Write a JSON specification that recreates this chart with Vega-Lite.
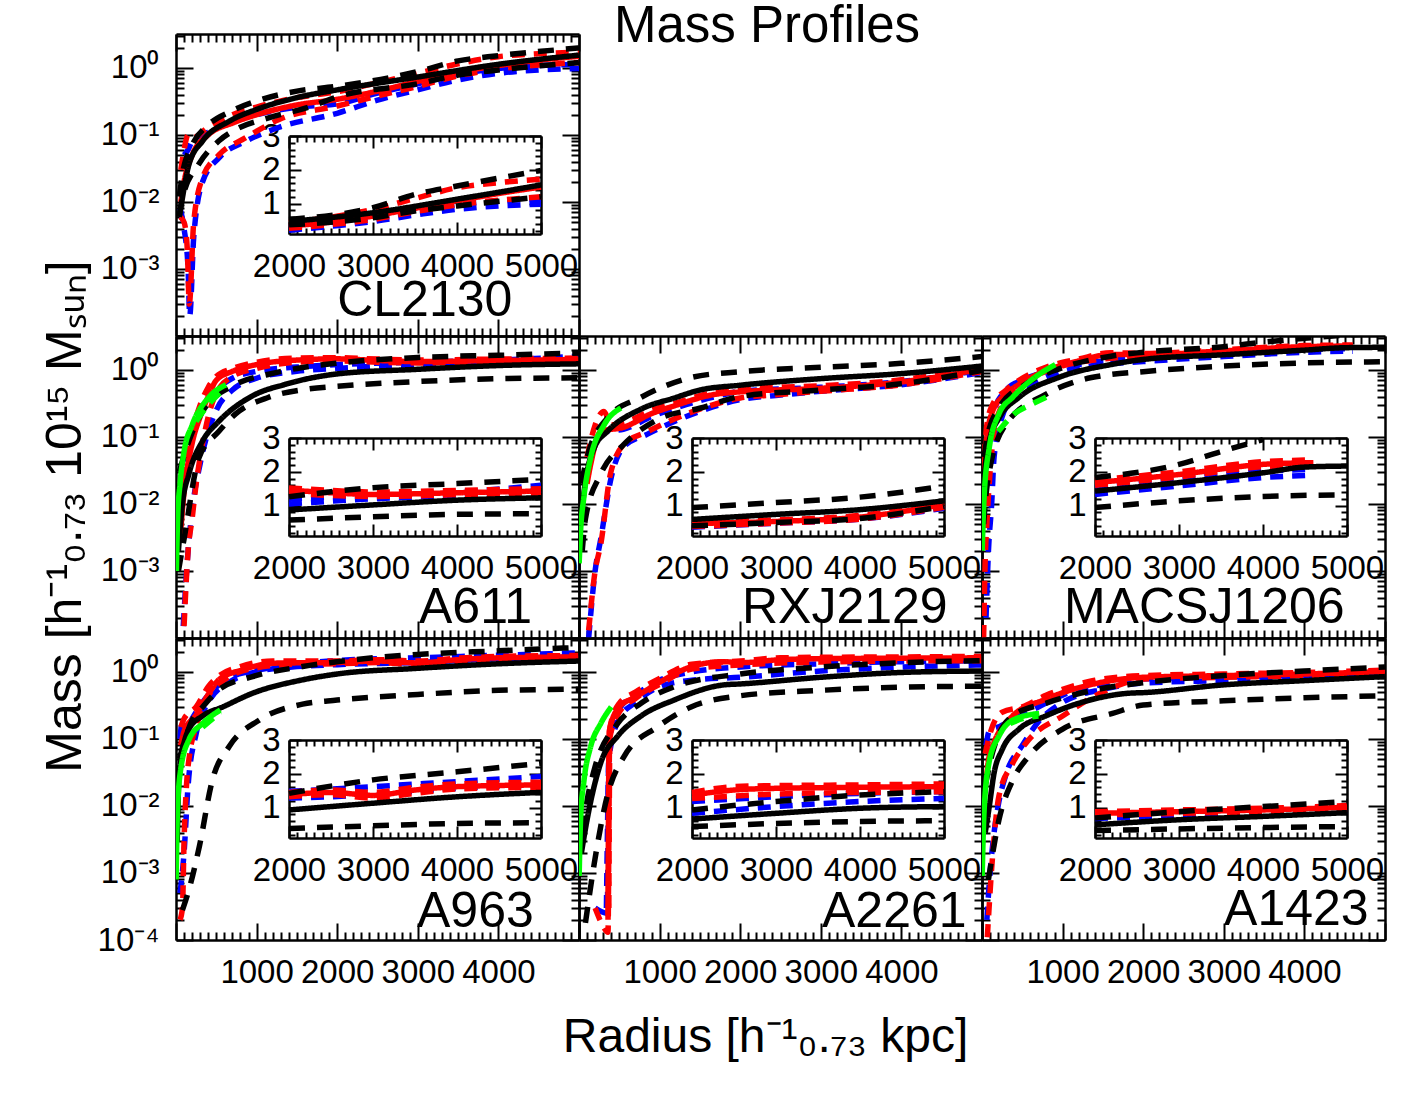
{
"$schema": "https://vega.github.io/schema/vega-lite/v6.json",
"background": "white",
"padding": {"left": 40, "top": 0, "right": 5, "bottom": 5},
"columns": 3,
"spacing": 0,
"bounds": "flush",
"datasets": {
"CL2130": [
{"s":"B+","r":100,"m":0.05},{"s":"B+","r":150,"m":0.06},{"s":"B+","r":200,"m":0.08},{"s":"B+","r":400,"m":0.11},{"s":"B+","r":700,"m":0.16},{"s":"B+","r":1000,"m":0.2},{"s":"B+","r":1500,"m":0.26},{"s":"B+","r":2000,"m":0.29},{"s":"B+","r":2500,"m":0.42},{"s":"B+","r":3000,"m":0.58},{"s":"B+","r":3500,"m":0.8},{"s":"B+","r":4000,"m":0.98},{"s":"B+","r":4500,"m":1.08},{"s":"B+","r":5000,"m":1.13},
{"s":"B-","r":50,"m":0.008},{"s":"B-","r":100,"m":0.004},{"s":"B-","r":150,"m":0.001},{"s":"B-","r":170,"m":0.0002},{"s":"B-","r":220,"m":0.003},{"s":"B-","r":330,"m":0.02},{"s":"B-","r":530,"m":0.045},{"s":"B-","r":860,"m":0.08},{"s":"B-","r":1280,"m":0.13},{"s":"B-","r":2000,"m":0.21},{"s":"B-","r":2500,"m":0.33},{"s":"B-","r":3000,"m":0.47},{"s":"B-","r":3500,"m":0.66},{"s":"B-","r":4000,"m":0.83},{"s":"B-","r":4500,"m":0.93},{"s":"B-","r":5000,"m":0.98},
{"s":"R-","r":50,"m":0.006},{"s":"R-","r":100,"m":0.005},{"s":"R-","r":140,"m":0.002},{"s":"R-","r":165,"m":0.0003},{"s":"R-","r":220,"m":0.005},{"s":"R-","r":330,"m":0.023},{"s":"R-","r":530,"m":0.05},{"s":"R-","r":860,"m":0.09},{"s":"R-","r":1280,"m":0.17},{"s":"R-","r":2000,"m":0.27},{"s":"R-","r":2500,"m":0.38},{"s":"R-","r":3000,"m":0.53},{"s":"R-","r":3500,"m":0.76},{"s":"R-","r":4000,"m":0.96},{"s":"R-","r":4500,"m":1.1},{"s":"R-","r":5000,"m":1.2},
{"s":"R+","r":60,"m":0.03},{"s":"R+","r":100,"m":0.06},{"s":"R+","r":150,"m":0.1},{"s":"R+","r":200,"m":0.09},{"s":"R+","r":400,"m":0.13},{"s":"R+","r":700,"m":0.2},{"s":"R+","r":1000,"m":0.26},{"s":"R+","r":1500,"m":0.36},{"s":"R+","r":2000,"m":0.44},{"s":"R+","r":2500,"m":0.6},{"s":"R+","r":3000,"m":0.83},{"s":"R+","r":3500,"m":1.15},{"s":"R+","r":4000,"m":1.47},{"s":"R+","r":4500,"m":1.62},{"s":"R+","r":5000,"m":1.72},
{"s":"R","r":60,"m":0.01},{"s":"R","r":100,"m":0.02},{"s":"R","r":200,"m":0.05},{"s":"R","r":400,"m":0.1},{"s":"R","r":700,"m":0.15},{"s":"R","r":1000,"m":0.2},{"s":"R","r":1500,"m":0.28},{"s":"R","r":2000,"m":0.34},{"s":"R","r":2500,"m":0.45},{"s":"R","r":3000,"m":0.63},{"s":"R","r":3500,"m":0.86},{"s":"R","r":4000,"m":1.08},{"s":"R","r":4500,"m":1.3},{"s":"R","r":5000,"m":1.49},
{"s":"K-","r":40,"m":0.006},{"s":"K-","r":80,"m":0.0115},{"s":"K-","r":285,"m":0.037},{"s":"K-","r":530,"m":0.081},{"s":"K-","r":740,"m":0.12},{"s":"K-","r":1150,"m":0.18},{"s":"K-","r":1650,"m":0.26},{"s":"K-","r":2000,"m":0.37},{"s":"K-","r":3000,"m":0.58},{"s":"K-","r":3500,"m":0.78},{"s":"K-","r":4000,"m":0.93},{"s":"K-","r":5000,"m":1.2},
{"s":"K+","r":40,"m":0.012},{"s":"K+","r":80,"m":0.026},{"s":"K+","r":200,"m":0.07},{"s":"K+","r":400,"m":0.14},{"s":"K+","r":700,"m":0.23},{"s":"K+","r":1000,"m":0.32},{"s":"K+","r":1500,"m":0.45},{"s":"K+","r":2000,"m":0.53},{"s":"K+","r":3000,"m":0.88},{"s":"K+","r":3500,"m":1.27},{"s":"K+","r":4000,"m":1.52},{"s":"K+","r":5000,"m":1.98},
{"s":"K","r":40,"m":0.006},{"s":"K","r":60,"m":0.0083},{"s":"K","r":160,"m":0.036},{"s":"K","r":330,"m":0.081},{"s":"K","r":660,"m":0.16},{"s":"K","r":1000,"m":0.24},{"s":"K","r":1500,"m":0.36},{"s":"K","r":2000,"m":0.47},{"s":"K","r":3000,"m":0.73},{"s":"K","r":4000,"m":1.13},{"s":"K","r":5000,"m":1.55}
],
"A611": [
{"s":"B+","r":100,"m":0.02},{"s":"B+","r":200,"m":0.1},{"s":"B+","r":300,"m":0.22},{"s":"B+","r":500,"m":0.5},{"s":"B+","r":700,"m":0.75},{"s":"B+","r":1000,"m":0.95},{"s":"B+","r":1500,"m":1.1},{"s":"B+","r":2000,"m":1.2},{"s":"B+","r":3000,"m":1.3},{"s":"B+","r":4000,"m":1.4},{"s":"B+","r":5000,"m":1.6},
{"s":"B-","r":90,"m":0.00015},{"s":"B-","r":150,"m":0.002},{"s":"B-","r":200,"m":0.008},{"s":"B-","r":300,"m":0.04},{"s":"B-","r":500,"m":0.25},{"s":"B-","r":700,"m":0.5},{"s":"B-","r":1000,"m":0.75},{"s":"B-","r":1500,"m":0.95},{"s":"B-","r":2000,"m":1.05},{"s":"B-","r":3000,"m":1.2},{"s":"B-","r":4000,"m":1.3},{"s":"B-","r":5000,"m":1.45},
{"s":"R-","r":100,"m":0.00015},{"s":"R-","r":150,"m":0.002},{"s":"R-","r":200,"m":0.006},{"s":"R-","r":250,"m":0.02},{"s":"R-","r":300,"m":0.05},{"s":"R-","r":400,"m":0.2},{"s":"R-","r":500,"m":0.45},{"s":"R-","r":700,"m":0.8},{"s":"R-","r":1000,"m":1.05},{"s":"R-","r":1500,"m":1.3},{"s":"R-","r":2000,"m":1.36},{"s":"R-","r":2500,"m":1.3},{"s":"R-","r":3000,"m":1.27},{"s":"R-","r":4000,"m":1.32},{"s":"R-","r":5000,"m":1.36},
{"s":"R+","r":50,"m":0.005},{"s":"R+","r":100,"m":0.03},{"s":"R+","r":200,"m":0.12},{"s":"R+","r":300,"m":0.3},{"s":"R+","r":400,"m":0.55},{"s":"R+","r":500,"m":0.8},{"s":"R+","r":700,"m":1.05},{"s":"R+","r":1000,"m":1.3},{"s":"R+","r":1500,"m":1.5},{"s":"R+","r":2000,"m":1.52},{"s":"R+","r":2500,"m":1.45},{"s":"R+","r":3000,"m":1.4},{"s":"R+","r":4000,"m":1.45},{"s":"R+","r":5000,"m":1.5},
{"s":"R","r":50,"m":0.003},{"s":"R","r":100,"m":0.015},{"s":"R","r":200,"m":0.08},{"s":"R","r":300,"m":0.2},{"s":"R","r":400,"m":0.4},{"s":"R","r":500,"m":0.7},{"s":"R","r":700,"m":0.95},{"s":"R","r":1000,"m":1.2},{"s":"R","r":1500,"m":1.4},{"s":"R","r":2000,"m":1.46},{"s":"R","r":2500,"m":1.38},{"s":"R","r":3000,"m":1.33},{"s":"R","r":4000,"m":1.38},{"s":"R","r":5000,"m":1.43},
{"s":"K-","r":30,"m":0.001},{"s":"K-","r":100,"m":0.003},{"s":"K-","r":285,"m":0.049},{"s":"K-","r":530,"m":0.12},{"s":"K-","r":740,"m":0.22},{"s":"K-","r":1150,"m":0.39},{"s":"K-","r":1650,"m":0.52},{"s":"K-","r":2000,"m":0.57},{"s":"K-","r":3000,"m":0.67},{"s":"K-","r":4000,"m":0.74},{"s":"K-","r":5000,"m":0.76},
{"s":"K+","r":40,"m":0.03},{"s":"K+","r":160,"m":0.087},{"s":"K+","r":330,"m":0.24},{"s":"K+","r":740,"m":0.61},{"s":"K+","r":1150,"m":0.86},{"s":"K+","r":1500,"m":1.05},{"s":"K+","r":2000,"m":1.26},{"s":"K+","r":3000,"m":1.53},{"s":"K+","r":4000,"m":1.65},{"s":"K+","r":5000,"m":1.78},
{"s":"K","r":30,"m":0.002},{"s":"K","r":80,"m":0.01},{"s":"K","r":160,"m":0.028},{"s":"K","r":330,"m":0.087},{"s":"K","r":530,"m":0.17},{"s":"K","r":950,"m":0.41},{"s":"K","r":1360,"m":0.61},{"s":"K","r":2000,"m":0.87},{"s":"K","r":3000,"m":1.02},{"s":"K","r":4000,"m":1.16},{"s":"K","r":5000,"m":1.23},
{"s":"Gd","r":250,"m":0.17},{"s":"Gd","r":400,"m":0.3},{"s":"Gd","r":580,"m":0.5},
{"s":"G","r":5,"m":0.001},{"s":"G","r":20,"m":0.006},{"s":"G","r":50,"m":0.02},{"s":"G","r":100,"m":0.06},{"s":"G","r":200,"m":0.15},{"s":"G","r":400,"m":0.38},{"s":"G","r":620,"m":0.6}
],
"RXJ2129": [
{"s":"B+","r":150,"m":0.05},{"s":"B+","r":300,"m":0.12},{"s":"B+","r":550,"m":0.13},{"s":"B+","r":900,"m":0.2},{"s":"B+","r":1200,"m":0.27},{"s":"B+","r":1700,"m":0.4},{"s":"B+","r":2000,"m":0.48},{"s":"B+","r":3000,"m":0.55},{"s":"B+","r":4000,"m":0.67},{"s":"B+","r":5000,"m":1.0},
{"s":"B-","r":120,"m":0.0001},{"s":"B-","r":200,"m":0.001},{"s":"B-","r":270,"m":0.003},{"s":"B-","r":400,"m":0.025},{"s":"B-","r":550,"m":0.07},{"s":"B-","r":850,"m":0.11},{"s":"B-","r":1500,"m":0.24},{"s":"B-","r":2000,"m":0.36},{"s":"B-","r":2500,"m":0.42},{"s":"B-","r":3000,"m":0.48},{"s":"B-","r":4000,"m":0.6},{"s":"B-","r":5000,"m":0.92},
{"s":"R-","r":120,"m":0.00013},{"s":"R-","r":200,"m":0.001},{"s":"R-","r":270,"m":0.0025},{"s":"R-","r":390,"m":0.028},{"s":"R-","r":560,"m":0.078},{"s":"R-","r":850,"m":0.12},{"s":"R-","r":1500,"m":0.26},{"s":"R-","r":2000,"m":0.38},{"s":"R-","r":2500,"m":0.43},{"s":"R-","r":3000,"m":0.48},{"s":"R-","r":4000,"m":0.6},{"s":"R-","r":5000,"m":0.95},
{"s":"R+","r":100,"m":0.05},{"s":"R+","r":200,"m":0.15},{"s":"R+","r":310,"m":0.24},{"s":"R+","r":400,"m":0.15},{"s":"R+","r":600,"m":0.17},{"s":"R+","r":900,"m":0.25},{"s":"R+","r":1200,"m":0.32},{"s":"R+","r":1700,"m":0.47},{"s":"R+","r":2000,"m":0.52},{"s":"R+","r":3000,"m":0.58},{"s":"R+","r":4000,"m":0.71},{"s":"R+","r":5000,"m":1.1},
{"s":"R","r":100,"m":0.02},{"s":"R","r":145,"m":0.039},{"s":"R","r":270,"m":0.12},{"s":"R","r":560,"m":0.14},{"s":"R","r":890,"m":0.22},{"s":"R","r":1180,"m":0.29},{"s":"R","r":1680,"m":0.43},{"s":"R","r":2000,"m":0.47},{"s":"R","r":3000,"m":0.53},{"s":"R","r":4000,"m":0.66},{"s":"R","r":5000,"m":1.03},
{"s":"K-","r":40,"m":0.002},{"s":"K-","r":80,"m":0.006},{"s":"K-","r":270,"m":0.028},{"s":"K-","r":560,"m":0.078},{"s":"K-","r":970,"m":0.18},{"s":"K-","r":1510,"m":0.27},{"s":"K-","r":2000,"m":0.4},{"s":"K-","r":3000,"m":0.5},{"s":"K-","r":4000,"m":0.62},{"s":"K-","r":5000,"m":0.98},
{"s":"K+","r":30,"m":0.02},{"s":"K+","r":100,"m":0.049},{"s":"K+","r":350,"m":0.19},{"s":"K+","r":770,"m":0.39},{"s":"K+","r":1390,"m":0.77},{"s":"K+","r":2000,"m":0.94},{"s":"K+","r":3000,"m":1.09},{"s":"K+","r":4000,"m":1.25},{"s":"K+","r":5000,"m":1.58},
{"s":"K","r":25,"m":0.006},{"s":"K","r":80,"m":0.022},{"s":"K","r":190,"m":0.069},{"s":"K","r":350,"m":0.12},{"s":"K","r":770,"m":0.26},{"s":"K","r":1180,"m":0.38},{"s":"K","r":1500,"m":0.5},{"s":"K","r":2000,"m":0.59},{"s":"K","r":3000,"m":0.74},{"s":"K","r":4000,"m":0.88},{"s":"K","r":5000,"m":1.14},
{"s":"G","r":2,"m":0.0013},{"s":"G","r":20,"m":0.004},{"s":"G","r":60,"m":0.0125},{"s":"G","r":145,"m":0.049},{"s":"G","r":310,"m":0.15},{"s":"G","r":520,"m":0.27}
],
"MACSJ1206": [
{"s":"B+","r":40,"m":0.03},{"s":"B+","r":80,"m":0.1},{"s":"B+","r":150,"m":0.25},{"s":"B+","r":300,"m":0.5},{"s":"B+","r":500,"m":0.7},{"s":"B+","r":800,"m":0.95},{"s":"B+","r":1200,"m":1.2},{"s":"B+","r":2000,"m":1.53},{"s":"B+","r":3000,"m":1.78},{"s":"B+","r":4000,"m":2.02},{"s":"B+","r":4600,"m":2.07},
{"s":"B-","r":50,"m":0.0002},{"s":"B-","r":80,"m":0.002},{"s":"B-","r":120,"m":0.01},{"s":"B-","r":150,"m":0.05},{"s":"B-","r":250,"m":0.2},{"s":"B-","r":400,"m":0.4},{"s":"B-","r":700,"m":0.7},{"s":"B-","r":1000,"m":0.95},{"s":"B-","r":1500,"m":1.2},{"s":"B-","r":2000,"m":1.33},{"s":"B-","r":3000,"m":1.58},{"s":"B-","r":4000,"m":1.83},{"s":"B-","r":4600,"m":1.9},
{"s":"R-","r":20,"m":0.0001},{"s":"R-","r":40,"m":0.0015},{"s":"R-","r":60,"m":0.005},{"s":"R-","r":100,"m":0.03},{"s":"R-","r":150,"m":0.12},{"s":"R-","r":250,"m":0.3},{"s":"R-","r":400,"m":0.5},{"s":"R-","r":700,"m":0.85},{"s":"R-","r":1000,"m":1.15},{"s":"R-","r":1500,"m":1.45},{"s":"R-","r":2000,"m":1.6},{"s":"R-","r":3000,"m":1.85},{"s":"R-","r":4000,"m":2.15},{"s":"R-","r":4600,"m":2.2},
{"s":"R+","r":30,"m":0.05},{"s":"R+","r":60,"m":0.15},{"s":"R+","r":130,"m":0.3},{"s":"R+","r":300,"m":0.5},{"s":"R+","r":460,"m":0.7},{"s":"R+","r":800,"m":1.1},{"s":"R+","r":1200,"m":1.45},{"s":"R+","r":1600,"m":1.8},{"s":"R+","r":2000,"m":1.76},{"s":"R+","r":3000,"m":2.0},{"s":"R+","r":4000,"m":2.3},{"s":"R+","r":4600,"m":2.35},
{"s":"R","r":20,"m":0.02},{"s":"R","r":45,"m":0.069},{"s":"R","r":130,"m":0.24},{"s":"R","r":290,"m":0.43},{"s":"R","r":460,"m":0.61},{"s":"R","r":790,"m":0.97},{"s":"R","r":1200,"m":1.36},{"s":"R","r":1600,"m":1.7},{"s":"R","r":2000,"m":1.68},{"s":"R","r":3000,"m":1.92},{"s":"R","r":4000,"m":2.22},{"s":"R","r":4600,"m":2.27},
{"s":"K-","r":20,"m":0.005},{"s":"K-","r":45,"m":0.012},{"s":"K-","r":90,"m":0.03},{"s":"K-","r":290,"m":0.15},{"s":"K-","r":790,"m":0.43},{"s":"K-","r":1200,"m":0.69},{"s":"K-","r":1500,"m":0.82},{"s":"K-","r":2000,"m":0.94},{"s":"K-","r":3000,"m":1.14},{"s":"K-","r":4000,"m":1.27},{"s":"K-","r":5000,"m":1.32},
{"s":"K+","r":25,"m":0.05},{"s":"K+","r":66,"m":0.1},{"s":"K+","r":210,"m":0.27},{"s":"K+","r":540,"m":0.61},{"s":"K+","r":1000,"m":1.08},{"s":"K+","r":1600,"m":1.6},{"s":"K+","r":2000,"m":1.83},{"s":"K+","r":3000,"m":2.22},{"s":"K+","r":3500,"m":2.6},{"s":"K+","r":4000,"m":2.95},{"s":"K+","r":4500,"m":3.3},{"s":"K+","r":5000,"m":3.5},
{"s":"K","r":10,"m":0.005},{"s":"K","r":25,"m":0.022},{"s":"K","r":90,"m":0.087},{"s":"K","r":210,"m":0.19},{"s":"K","r":460,"m":0.39},{"s":"K","r":950,"m":0.77},{"s":"K","r":1600,"m":1.2},{"s":"K","r":2000,"m":1.43},{"s":"K","r":3000,"m":1.68},{"s":"K","r":4000,"m":1.97},{"s":"K","r":4500,"m":2.14},{"s":"K","r":5000,"m":2.17},
{"s":"Gd","r":200,"m":0.12},{"s":"Gd","r":400,"m":0.22},{"s":"Gd","r":600,"m":0.3},{"s":"Gd","r":850,"m":0.42},
{"s":"G","r":2,"m":0.002},{"s":"G","r":25,"m":0.012},{"s":"G","r":90,"m":0.069},{"s":"G","r":210,"m":0.22},{"s":"G","r":380,"m":0.39},{"s":"G","r":710,"m":0.86},{"s":"G","r":910,"m":1.2}
],
"A963": [
{"s":"B+","r":50,"m":0.1},{"s":"B+","r":80,"m":0.19},{"s":"B+","r":100,"m":0.12},{"s":"B+","r":200,"m":0.2},{"s":"B+","r":400,"m":0.45},{"s":"B+","r":700,"m":0.85},{"s":"B+","r":1000,"m":1.05},{"s":"B+","r":1500,"m":1.3},{"s":"B+","r":2000,"m":1.48},{"s":"B+","r":3000,"m":1.62},{"s":"B+","r":4000,"m":1.77},{"s":"B+","r":5000,"m":1.92},
{"s":"B-","r":50,"m":0.0005},{"s":"B-","r":100,"m":0.002},{"s":"B-","r":150,"m":0.02},{"s":"B-","r":250,"m":0.12},{"s":"B-","r":400,"m":0.35},{"s":"B-","r":700,"m":0.75},{"s":"B-","r":1000,"m":1.0},{"s":"B-","r":1500,"m":1.2},{"s":"B-","r":2000,"m":1.28},{"s":"B-","r":3000,"m":1.38},{"s":"B-","r":4000,"m":1.57},{"s":"B-","r":5000,"m":1.67},
{"s":"R-","r":50,"m":0.0002},{"s":"R-","r":80,"m":0.0003},{"s":"R-","r":100,"m":0.003},{"s":"R-","r":130,"m":0.02},{"s":"R-","r":170,"m":0.06},{"s":"R-","r":250,"m":0.15},{"s":"R-","r":350,"m":0.35},{"s":"R-","r":500,"m":0.6},{"s":"R-","r":700,"m":0.9},{"s":"R-","r":1000,"m":1.15},{"s":"R-","r":1500,"m":1.3},{"s":"R-","r":2000,"m":1.32},{"s":"R-","r":2500,"m":1.38},{"s":"R-","r":3000,"m":1.28},{"s":"R-","r":3500,"m":1.42},{"s":"R-","r":4000,"m":1.55},{"s":"R-","r":5000,"m":1.6},
{"s":"R+","r":60,"m":0.15},{"s":"R+","r":100,"m":0.2},{"s":"R+","r":250,"m":0.3},{"s":"R+","r":400,"m":0.6},{"s":"R+","r":550,"m":0.9},{"s":"R+","r":800,"m":1.2},{"s":"R+","r":1200,"m":1.45},{"s":"R+","r":2000,"m":1.45},{"s":"R+","r":2500,"m":1.52},{"s":"R+","r":3000,"m":1.45},{"s":"R+","r":3500,"m":1.6},{"s":"R+","r":4000,"m":1.7},{"s":"R+","r":5000,"m":1.75},
{"s":"R","r":60,"m":0.08},{"s":"R","r":100,"m":0.13},{"s":"R","r":240,"m":0.22},{"s":"R","r":410,"m":0.48},{"s":"R","r":530,"m":0.76},{"s":"R","r":820,"m":1.07},{"s":"R","r":1240,"m":1.35},{"s":"R","r":2000,"m":1.38},{"s":"R","r":2500,"m":1.45},{"s":"R","r":3000,"m":1.36},{"s":"R","r":3500,"m":1.52},{"s":"R","r":4000,"m":1.62},{"s":"R","r":5000,"m":1.67},
{"s":"K-","r":80,"m":0.00028},{"s":"K-","r":160,"m":0.00056},{"s":"K-","r":290,"m":0.0025},{"s":"K-","r":450,"m":0.024},{"s":"K-","r":660,"m":0.077},{"s":"K-","r":1030,"m":0.19},{"s":"K-","r":1570,"m":0.33},{"s":"K-","r":2000,"m":0.38},{"s":"K-","r":3000,"m":0.46},{"s":"K-","r":4000,"m":0.53},{"s":"K-","r":5000,"m":0.55},
{"s":"K+","r":40,"m":0.05},{"s":"K+","r":200,"m":0.19},{"s":"K+","r":330,"m":0.3},{"s":"K+","r":530,"m":0.54},{"s":"K+","r":950,"m":0.85},{"s":"K+","r":1570,"m":1.2},{"s":"K+","r":2000,"m":1.42},{"s":"K+","r":3000,"m":1.82},{"s":"K+","r":4000,"m":2.06},{"s":"K+","r":5000,"m":2.31},
{"s":"K","r":15,"m":0.003},{"s":"K","r":40,"m":0.03},{"s":"K","r":160,"m":0.14},{"s":"K","r":330,"m":0.22},{"s":"K","r":580,"m":0.3},{"s":"K","r":950,"m":0.48},{"s":"K","r":1570,"m":0.76},{"s":"K","r":2000,"m":0.93},{"s":"K","r":3000,"m":1.13},{"s":"K","r":4000,"m":1.32},{"s":"K","r":5000,"m":1.45},
{"s":"Gd","r":330,"m":0.15},{"s":"Gd","r":550,"m":0.25},
{"s":"G","r":2,"m":0.0008},{"s":"G","r":17,"m":0.0077},{"s":"G","r":58,"m":0.035},{"s":"G","r":160,"m":0.097},{"s":"G","r":330,"m":0.17},{"s":"G","r":550,"m":0.27}
],
"A2261": [
{"s":"B+","r":340,"m":0.0003},{"s":"B+","r":380,"m":0.1},{"s":"B+","r":500,"m":0.28},{"s":"B+","r":700,"m":0.45},{"s":"B+","r":1000,"m":0.75},{"s":"B+","r":1400,"m":1.0},{"s":"B+","r":2000,"m":1.18},{"s":"B+","r":3000,"m":1.32},{"s":"B+","r":4000,"m":1.42},{"s":"B+","r":5000,"m":1.47},
{"s":"B-","r":200,"m":0.0003},{"s":"B-","r":350,"m":0.00025},{"s":"B-","r":370,"m":0.05},{"s":"B-","r":500,"m":0.2},{"s":"B-","r":700,"m":0.35},{"s":"B-","r":1000,"m":0.6},{"s":"B-","r":1400,"m":0.75},{"s":"B-","r":2000,"m":0.83},{"s":"B-","r":3000,"m":1.03},{"s":"B-","r":4000,"m":1.18},{"s":"B-","r":5000,"m":1.27},
{"s":"R-","r":200,"m":0.0003},{"s":"R-","r":300,"m":0.00016},{"s":"R-","r":360,"m":0.00013},{"s":"R-","r":380,"m":0.1},{"s":"R-","r":500,"m":0.25},{"s":"R-","r":700,"m":0.4},{"s":"R-","r":1000,"m":0.65},{"s":"R-","r":1400,"m":1.1},{"s":"R-","r":2000,"m":1.27},{"s":"R-","r":3000,"m":1.4},{"s":"R-","r":4000,"m":1.45},{"s":"R-","r":5000,"m":1.47},
{"s":"R+","r":370,"m":0.0003},{"s":"R+","r":385,"m":0.15},{"s":"R+","r":500,"m":0.34},{"s":"R+","r":700,"m":0.5},{"s":"R+","r":1000,"m":0.8},{"s":"R+","r":1400,"m":1.3},{"s":"R+","r":2000,"m":1.45},{"s":"R+","r":2500,"m":1.62},{"s":"R+","r":3000,"m":1.65},{"s":"R+","r":4000,"m":1.67},{"s":"R+","r":5000,"m":1.7},
{"s":"R","r":360,"m":0.0002},{"s":"R","r":375,"m":0.13},{"s":"R","r":500,"m":0.3},{"s":"R","r":700,"m":0.42},{"s":"R","r":1000,"m":0.7},{"s":"R","r":1400,"m":1.2},{"s":"R","r":1800,"m":1.42},{"s":"R","r":2000,"m":1.37},{"s":"R","r":2500,"m":1.52},{"s":"R","r":3000,"m":1.57},{"s":"R","r":4000,"m":1.6},{"s":"R","r":5000,"m":1.62},
{"s":"K-","r":80,"m":0.00018},{"s":"K-","r":190,"m":0.0014},{"s":"K-","r":350,"m":0.014},{"s":"K-","r":560,"m":0.055},{"s":"K-","r":970,"m":0.15},{"s":"K-","r":1390,"m":0.3},{"s":"K-","r":2000,"m":0.44},{"s":"K-","r":3000,"m":0.53},{"s":"K-","r":4000,"m":0.59},{"s":"K-","r":5000,"m":0.61},
{"s":"K+","r":40,"m":0.004},{"s":"K+","r":100,"m":0.012},{"s":"K+","r":190,"m":0.035},{"s":"K+","r":480,"m":0.17},{"s":"K+","r":770,"m":0.34},{"s":"K+","r":1180,"m":0.6},{"s":"K+","r":2000,"m":0.93},{"s":"K+","r":3000,"m":1.18},{"s":"K+","r":4000,"m":1.37},{"s":"K+","r":5000,"m":1.47},
{"s":"K","r":30,"m":0.002},{"s":"K","r":100,"m":0.0062},{"s":"K","r":270,"m":0.044},{"s":"K","r":480,"m":0.11},{"s":"K","r":770,"m":0.22},{"s":"K","r":1180,"m":0.38},{"s":"K","r":1800,"m":0.64},{"s":"K","r":2000,"m":0.66},{"s":"K","r":3000,"m":0.83},{"s":"K","r":4000,"m":0.98},{"s":"K","r":5000,"m":1.03},
{"s":"G","r":2,"m":0.0009},{"s":"G","r":21,"m":0.007},{"s":"G","r":62,"m":0.024},{"s":"G","r":145,"m":0.077},{"s":"G","r":270,"m":0.17},{"s":"G","r":400,"m":0.3}
],
"A1423": [
{"s":"B+","r":50,"m":0.08},{"s":"B+","r":90,"m":0.13},{"s":"B+","r":200,"m":0.15},{"s":"B+","r":400,"m":0.2},{"s":"B+","r":700,"m":0.3},{"s":"B+","r":1000,"m":0.45},{"s":"B+","r":1500,"m":0.65},{"s":"B+","r":2000,"m":0.78},{"s":"B+","r":3000,"m":0.84},{"s":"B+","r":4000,"m":0.9},{"s":"B+","r":5000,"m":0.98},
{"s":"B-","r":60,"m":0.0002},{"s":"B-","r":100,"m":0.001},{"s":"B-","r":150,"m":0.004},{"s":"B-","r":200,"m":0.01},{"s":"B-","r":300,"m":0.03},{"s":"B-","r":500,"m":0.08},{"s":"B-","r":700,"m":0.18},{"s":"B-","r":1000,"m":0.35},{"s":"B-","r":1500,"m":0.55},{"s":"B-","r":2000,"m":0.68},{"s":"B-","r":3000,"m":0.74},{"s":"B-","r":4000,"m":0.8},{"s":"B-","r":5000,"m":0.9},
{"s":"R-","r":66,"m":0.00011},{"s":"R-","r":130,"m":0.0017},{"s":"R-","r":210,"m":0.014},{"s":"R-","r":380,"m":0.043},{"s":"R-","r":580,"m":0.097},{"s":"R-","r":1000,"m":0.22},{"s":"R-","r":1500,"m":0.5},{"s":"R-","r":2000,"m":0.78},{"s":"R-","r":3000,"m":0.83},{"s":"R-","r":4000,"m":0.88},{"s":"R-","r":5000,"m":0.96},
{"s":"R+","r":40,"m":0.06},{"s":"R+","r":100,"m":0.12},{"s":"R+","r":250,"m":0.25},{"s":"R+","r":500,"m":0.3},{"s":"R+","r":800,"m":0.45},{"s":"R+","r":1000,"m":0.55},{"s":"R+","r":1400,"m":0.75},{"s":"R+","r":2000,"m":0.88},{"s":"R+","r":3000,"m":0.93},{"s":"R+","r":4000,"m":0.98},{"s":"R+","r":5000,"m":1.06},
{"s":"R","r":60,"m":0.03},{"s":"R","r":90,"m":0.055},{"s":"R","r":380,"m":0.22},{"s":"R","r":790,"m":0.39},{"s":"R","r":1410,"m":0.67},{"s":"R","r":1820,"m":0.8},{"s":"R","r":2000,"m":0.83},{"s":"R","r":3000,"m":0.88},{"s":"R","r":4000,"m":0.93},{"s":"R","r":5000,"m":1.01},
{"s":"K-","r":80,"m":0.0008},{"s":"K-","r":210,"m":0.0062},{"s":"K-","r":380,"m":0.024},{"s":"K-","r":580,"m":0.055},{"s":"K-","r":1000,"m":0.14},{"s":"K-","r":1620,"m":0.24},{"s":"K-","r":2000,"m":0.32},{"s":"K-","r":3000,"m":0.37},{"s":"K-","r":4000,"m":0.41},{"s":"K-","r":5000,"m":0.44},
{"s":"K+","r":40,"m":0.02},{"s":"K+","r":130,"m":0.062},{"s":"K+","r":380,"m":0.22},{"s":"K+","r":790,"m":0.34},{"s":"K+","r":1410,"m":0.54},{"s":"K+","r":2000,"m":0.69},{"s":"K+","r":3000,"m":0.88},{"s":"K+","r":4000,"m":1.03},{"s":"K+","r":5000,"m":1.18},
{"s":"K","r":40,"m":0.004},{"s":"K","r":90,"m":0.0098},{"s":"K","r":150,"m":0.031},{"s":"K","r":250,"m":0.069},{"s":"K","r":460,"m":0.14},{"s":"K","r":790,"m":0.22},{"s":"K","r":1200,"m":0.34},{"s":"K","r":1820,"m":0.48},{"s":"K","r":2000,"m":0.49},{"s":"K","r":3000,"m":0.64},{"s":"K","r":4000,"m":0.74},{"s":"K","r":5000,"m":0.85},
{"s":"Gd","r":350,"m":0.17},{"s":"Gd","r":500,"m":0.2},{"s":"Gd","r":700,"m":0.22},
{"s":"G","r":2,"m":0.0009},{"s":"G","r":25,"m":0.008},{"s":"G","r":87,"m":0.044},{"s":"G","r":210,"m":0.11},{"s":"G","r":380,"m":0.19},{"s":"G","r":710,"m":0.24}
]
},
"concat": [
{
"width": 403, "height": 302, "data": {"name": "CL2130"},
"title": {"text": "Mass Profiles", "fontSize": 51, "font": "Liberation Sans", "fontWeight": "normal", "color": "black", "anchor": "start", "frame": "group", "dx": 438, "dy": 37},
"layer": [
{"mark": {"type": "line", "clip": true, "interpolate": "monotone"},
 "encoding": {
  "x": {"field": "r", "type": "quantitative", "scale": {"domain": [0, 5000], "nice": false, "zero": false}, "axis": {"orient": "bottom", "tickCount": 50, "labels": false, "tickSize": {"condition": {"test": "datum.value%1000==0", "value": -17}, "value": -8}, "title": null}},
  "y": {"field": "m", "type": "quantitative", "scale": {"type": "log", "domain": [0.0001, 3.2], "nice": false}, "axis": {"orient": "left", "tickCount": 10, "labels": true, "labelExpr": "datum.value==1?'10⁰':datum.value==0.1?'10⁻¹':datum.value==0.01?'10⁻²':datum.value==0.001?'10⁻³':''", "labelPadding": 34, "tickSize": {"condition": {"test": "datum.value==1||datum.value==0.1||datum.value==0.01||datum.value==0.001||datum.value==0.0001", "value": -17}, "value": -8}, "title": null}},
  "color": {"field": "s", "type": "nominal", "legend": null, "scale": {"domain": ["B+","B-","R-","R+","R","K-","K+","K","Gd","G"], "range": ["#0000ff","#0000ff","#ff0000","#ff0000","#ff0000","#000000","#000000","#000000","#00ff00","#00ff00"]}},
  "strokeDash": {"field": "s", "type": "nominal", "legend": null, "scale": {"domain": ["B+","B-","R-","R+","R","K-","K+","K","Gd","G"], "range": [[13,9],[13,9],[13,9],[13,9],[1,0],[16,12],[16,12],[1,0],[14,9],[1,0]]}},
  "strokeWidth": {"field": "s", "type": "ordinal", "legend": null, "scale": {"domain": ["B+","B-","R-","R+","R","K-","K+","K","Gd","G"], "range": [5.5,5.5,5.5,5.5,2,5,5,4,5,3.5]}}
 }},
{"data": {"values": [{}]},
 "mark": {"type": "text", "text": "CL2130", "fontSize": 50, "font": "Liberation Sans", "align": "left", "baseline": "alphabetic", "color": "black"},
 "encoding": {
  "x": {"datum": 2000, "type": "quantitative", "scale": {"domain": [0, 5000], "nice": false, "zero": false}, "axis": {"orient": "top", "tickCount": 50, "labels": false, "tickSize": {"condition": {"test": "datum.value%1000==0", "value": -17}, "value": -8}, "title": null}},
  "y": {"datum": 0.0002, "type": "quantitative", "scale": {"type": "log", "domain": [0.0001, 3.2], "nice": false}, "axis": {"orient": "right", "tickCount": 10, "labels": false, "tickSize": {"condition": {"test": "datum.value==1||datum.value==0.1||datum.value==0.01||datum.value==0.001||datum.value==0.0001", "value": -17}, "value": -8}, "title": null}}
 }},
{"transform": [{"filter": "datum.r >= 2000 && datum.m <= 3.05"}],
 "mark": {"type": "line", "clip": true, "interpolate": "monotone"},
 "encoding": {
  "x": {"field": "r", "type": "quantitative", "scale": {"domain": [2000, 5000], "range": [113, 365], "nice": false, "zero": false}, "axis": {"orient": "bottom", "offset": -102, "tickCount": 30, "labelExpr": "datum.value%1000==0?''+datum.value:''", "labelPadding": 28, "tickSize": {"condition": {"test": "datum.value%1000==0", "value": -12}, "value": -6}, "title": null}},
  "y": {"field": "m", "type": "quantitative", "scale": {"domain": [0.1, 3], "range": [200, 102], "nice": false, "zero": false}, "axis": {"orient": "left", "offset": -113, "tickCount": 15, "labelExpr": "abs(datum.value-round(datum.value))<0.001?''+round(datum.value):''", "labelPadding": 21, "tickSize": {"condition": {"test": "abs(datum.value-round(datum.value))<0.001", "value": -12}, "value": -6}, "title": null}},
  "color": {"field": "s", "type": "nominal", "legend": null, "scale": {"domain": ["B+","B-","R-","R+","R","K-","K+","K","Gd","G"], "range": ["#0000ff","#0000ff","#ff0000","#ff0000","#ff0000","#000000","#000000","#000000","#00ff00","#00ff00"]}},
  "strokeDash": {"field": "s", "type": "nominal", "legend": null, "scale": {"domain": ["B+","B-","R-","R+","R","K-","K+","K","Gd","G"], "range": [[13,9],[13,9],[13,9],[13,9],[1,0],[16,12],[16,12],[1,0],[14,9],[1,0]]}},
  "strokeWidth": {"field": "s", "type": "ordinal", "legend": null, "scale": {"domain": ["B+","B-","R-","R+","R","K-","K+","K","Gd","G"], "range": [5.5,5.5,5.5,5.5,2,5,5,4,5,3.5]}}
 }},
{"data": {"values": [{}]},
 "mark": {"type": "point", "opacity": 0},
 "encoding": {
  "x": {"datum": 3000, "type": "quantitative", "scale": {"domain": [2000, 5000], "range": [113, 365], "nice": false, "zero": false}, "axis": {"orient": "top", "offset": -102, "tickCount": 30, "labels": false, "tickSize": {"condition": {"test": "datum.value%1000==0", "value": -12}, "value": -6}, "title": null}},
  "y": {"datum": 1, "type": "quantitative", "scale": {"domain": [0.1, 3], "range": [200, 102], "nice": false, "zero": false}, "axis": {"orient": "right", "offset": -38, "tickCount": 15, "labels": false, "tickSize": {"condition": {"test": "abs(datum.value-round(datum.value))<0.001", "value": -12}, "value": -6}, "title": null}}
 }}
],
"resolve": {"scale": {"x": "independent", "y": "independent"}}
},
{"width": 403, "height": 302, "data": {"values": [{}]}, "mark": {"type": "point", "opacity": 0}},
{"width": 403, "height": 302, "data": {"values": [{}]}, "mark": {"type": "point", "opacity": 0}},
{
"width": 403, "height": 302, "data": {"name": "A611"},
"layer": [
{"mark": {"type": "line", "clip": true, "interpolate": "monotone"},
 "encoding": {
  "x": {"field": "r", "type": "quantitative", "scale": {"domain": [0, 5000], "nice": false, "zero": false}, "axis": {"orient": "bottom", "tickCount": 50, "labels": false, "tickSize": {"condition": {"test": "datum.value%1000==0", "value": -17}, "value": -8}, "title": null}},
  "y": {"field": "m", "type": "quantitative", "scale": {"type": "log", "domain": [0.0001, 3.2], "nice": false}, "axis": {"orient": "left", "tickCount": 10, "labels": true, "labelExpr": "datum.value==1?'10⁰':datum.value==0.1?'10⁻¹':datum.value==0.01?'10⁻²':datum.value==0.001?'10⁻³':''", "labelPadding": 34, "tickSize": {"condition": {"test": "datum.value==1||datum.value==0.1||datum.value==0.01||datum.value==0.001||datum.value==0.0001", "value": -17}, "value": -8}, "title": "Mass [h⁻¹₀.₇₃ 10¹⁵ Mₛᵤₙ]", "titleFontSize": 50, "titlePadding": 10, "titleY": 180}},
  "color": {"field": "s", "type": "nominal", "legend": null, "scale": {"domain": ["B+","B-","R-","R+","R","K-","K+","K","Gd","G"], "range": ["#0000ff","#0000ff","#ff0000","#ff0000","#ff0000","#000000","#000000","#000000","#00ff00","#00ff00"]}},
  "strokeDash": {"field": "s", "type": "nominal", "legend": null, "scale": {"domain": ["B+","B-","R-","R+","R","K-","K+","K","Gd","G"], "range": [[13,9],[13,9],[13,9],[13,9],[1,0],[16,12],[16,12],[1,0],[14,9],[1,0]]}},
  "strokeWidth": {"field": "s", "type": "ordinal", "legend": null, "scale": {"domain": ["B+","B-","R-","R+","R","K-","K+","K","Gd","G"], "range": [5.5,5.5,5.5,5.5,2,5,5,4,5,3.5]}}
 }},
{"data": {"values": [{}]},
 "mark": {"type": "text", "text": "A611", "fontSize": 50, "font": "Liberation Sans", "align": "left", "baseline": "alphabetic", "color": "black"},
 "encoding": {
  "x": {"datum": 3015, "type": "quantitative", "scale": {"domain": [0, 5000], "nice": false, "zero": false}, "axis": {"orient": "top", "tickCount": 50, "labels": false, "tickSize": {"condition": {"test": "datum.value%1000==0", "value": -17}, "value": -8}, "title": null}},
  "y": {"datum": 0.000167, "type": "quantitative", "scale": {"type": "log", "domain": [0.0001, 3.2], "nice": false}, "axis": {"orient": "right", "tickCount": 10, "labels": false, "tickSize": {"condition": {"test": "datum.value==1||datum.value==0.1||datum.value==0.01||datum.value==0.001||datum.value==0.0001", "value": -17}, "value": -8}, "title": null}}
 }},
{"transform": [{"filter": "datum.r >= 2000 && datum.m <= 3.05"}],
 "mark": {"type": "line", "clip": true, "interpolate": "monotone"},
 "encoding": {
  "x": {"field": "r", "type": "quantitative", "scale": {"domain": [2000, 5000], "range": [113, 365], "nice": false, "zero": false}, "axis": {"orient": "bottom", "offset": -102, "tickCount": 30, "labelExpr": "datum.value%1000==0?''+datum.value:''", "labelPadding": 28, "tickSize": {"condition": {"test": "datum.value%1000==0", "value": -12}, "value": -6}, "title": null}},
  "y": {"field": "m", "type": "quantitative", "scale": {"domain": [0.1, 3], "range": [200, 102], "nice": false, "zero": false}, "axis": {"orient": "left", "offset": -113, "tickCount": 15, "labelExpr": "abs(datum.value-round(datum.value))<0.001?''+round(datum.value):''", "labelPadding": 21, "tickSize": {"condition": {"test": "abs(datum.value-round(datum.value))<0.001", "value": -12}, "value": -6}, "title": null}},
  "color": {"field": "s", "type": "nominal", "legend": null, "scale": {"domain": ["B+","B-","R-","R+","R","K-","K+","K","Gd","G"], "range": ["#0000ff","#0000ff","#ff0000","#ff0000","#ff0000","#000000","#000000","#000000","#00ff00","#00ff00"]}},
  "strokeDash": {"field": "s", "type": "nominal", "legend": null, "scale": {"domain": ["B+","B-","R-","R+","R","K-","K+","K","Gd","G"], "range": [[13,9],[13,9],[13,9],[13,9],[1,0],[16,12],[16,12],[1,0],[14,9],[1,0]]}},
  "strokeWidth": {"field": "s", "type": "ordinal", "legend": null, "scale": {"domain": ["B+","B-","R-","R+","R","K-","K+","K","Gd","G"], "range": [5.5,5.5,5.5,5.5,2,5,5,4,5,3.5]}}
 }},
{"data": {"values": [{}]},
 "mark": {"type": "point", "opacity": 0},
 "encoding": {
  "x": {"datum": 3000, "type": "quantitative", "scale": {"domain": [2000, 5000], "range": [113, 365], "nice": false, "zero": false}, "axis": {"orient": "top", "offset": -102, "tickCount": 30, "labels": false, "tickSize": {"condition": {"test": "datum.value%1000==0", "value": -12}, "value": -6}, "title": null}},
  "y": {"datum": 1, "type": "quantitative", "scale": {"domain": [0.1, 3], "range": [200, 102], "nice": false, "zero": false}, "axis": {"orient": "right", "offset": -38, "tickCount": 15, "labels": false, "tickSize": {"condition": {"test": "abs(datum.value-round(datum.value))<0.001", "value": -12}, "value": -6}, "title": null}}
 }}
],
"resolve": {"scale": {"x": "independent", "y": "independent"}}
},
{
"width": 403, "height": 302, "data": {"name": "RXJ2129"},
"layer": [
{"mark": {"type": "line", "clip": true, "interpolate": "monotone"},
 "encoding": {
  "x": {"field": "r", "type": "quantitative", "scale": {"domain": [0, 5000], "nice": false, "zero": false}, "axis": {"orient": "bottom", "tickCount": 50, "labels": false, "tickSize": {"condition": {"test": "datum.value%1000==0", "value": -17}, "value": -8}, "title": null}},
  "y": {"field": "m", "type": "quantitative", "scale": {"type": "log", "domain": [0.0001, 3.2], "nice": false}, "axis": {"orient": "left", "tickCount": 10, "labels": false, "tickSize": {"condition": {"test": "datum.value==1||datum.value==0.1||datum.value==0.01||datum.value==0.001||datum.value==0.0001", "value": -17}, "value": -8}, "title": null}},
  "color": {"field": "s", "type": "nominal", "legend": null, "scale": {"domain": ["B+","B-","R-","R+","R","K-","K+","K","Gd","G"], "range": ["#0000ff","#0000ff","#ff0000","#ff0000","#ff0000","#000000","#000000","#000000","#00ff00","#00ff00"]}},
  "strokeDash": {"field": "s", "type": "nominal", "legend": null, "scale": {"domain": ["B+","B-","R-","R+","R","K-","K+","K","Gd","G"], "range": [[13,9],[13,9],[13,9],[13,9],[1,0],[16,12],[16,12],[1,0],[14,9],[1,0]]}},
  "strokeWidth": {"field": "s", "type": "ordinal", "legend": null, "scale": {"domain": ["B+","B-","R-","R+","R","K-","K+","K","Gd","G"], "range": [5.5,5.5,5.5,5.5,2,5,5,4,5,3.5]}}
 }},
{"data": {"values": [{}]},
 "mark": {"type": "text", "text": "RXJ2129", "fontSize": 50, "font": "Liberation Sans", "align": "left", "baseline": "alphabetic", "color": "black"},
 "encoding": {
  "x": {"datum": 2022, "type": "quantitative", "scale": {"domain": [0, 5000], "nice": false, "zero": false}, "axis": {"orient": "top", "tickCount": 50, "labels": false, "tickSize": {"condition": {"test": "datum.value%1000==0", "value": -17}, "value": -8}, "title": null}},
  "y": {"datum": 0.000167, "type": "quantitative", "scale": {"type": "log", "domain": [0.0001, 3.2], "nice": false}, "axis": {"orient": "right", "tickCount": 10, "labels": false, "tickSize": {"condition": {"test": "datum.value==1||datum.value==0.1||datum.value==0.01||datum.value==0.001||datum.value==0.0001", "value": -17}, "value": -8}, "title": null}}
 }},
{"transform": [{"filter": "datum.r >= 2000 && datum.m <= 3.05"}],
 "mark": {"type": "line", "clip": true, "interpolate": "monotone"},
 "encoding": {
  "x": {"field": "r", "type": "quantitative", "scale": {"domain": [2000, 5000], "range": [113, 365], "nice": false, "zero": false}, "axis": {"orient": "bottom", "offset": -102, "tickCount": 30, "labelExpr": "datum.value%1000==0?''+datum.value:''", "labelPadding": 28, "tickSize": {"condition": {"test": "datum.value%1000==0", "value": -12}, "value": -6}, "title": null}},
  "y": {"field": "m", "type": "quantitative", "scale": {"domain": [0.1, 3], "range": [200, 102], "nice": false, "zero": false}, "axis": {"orient": "left", "offset": -113, "tickCount": 15, "labelExpr": "abs(datum.value-round(datum.value))<0.001?''+round(datum.value):''", "labelPadding": 21, "tickSize": {"condition": {"test": "abs(datum.value-round(datum.value))<0.001", "value": -12}, "value": -6}, "title": null}},
  "color": {"field": "s", "type": "nominal", "legend": null, "scale": {"domain": ["B+","B-","R-","R+","R","K-","K+","K","Gd","G"], "range": ["#0000ff","#0000ff","#ff0000","#ff0000","#ff0000","#000000","#000000","#000000","#00ff00","#00ff00"]}},
  "strokeDash": {"field": "s", "type": "nominal", "legend": null, "scale": {"domain": ["B+","B-","R-","R+","R","K-","K+","K","Gd","G"], "range": [[13,9],[13,9],[13,9],[13,9],[1,0],[16,12],[16,12],[1,0],[14,9],[1,0]]}},
  "strokeWidth": {"field": "s", "type": "ordinal", "legend": null, "scale": {"domain": ["B+","B-","R-","R+","R","K-","K+","K","Gd","G"], "range": [5.5,5.5,5.5,5.5,2,5,5,4,5,3.5]}}
 }},
{"data": {"values": [{}]},
 "mark": {"type": "point", "opacity": 0},
 "encoding": {
  "x": {"datum": 3000, "type": "quantitative", "scale": {"domain": [2000, 5000], "range": [113, 365], "nice": false, "zero": false}, "axis": {"orient": "top", "offset": -102, "tickCount": 30, "labels": false, "tickSize": {"condition": {"test": "datum.value%1000==0", "value": -12}, "value": -6}, "title": null}},
  "y": {"datum": 1, "type": "quantitative", "scale": {"domain": [0.1, 3], "range": [200, 102], "nice": false, "zero": false}, "axis": {"orient": "right", "offset": -38, "tickCount": 15, "labels": false, "tickSize": {"condition": {"test": "abs(datum.value-round(datum.value))<0.001", "value": -12}, "value": -6}, "title": null}}
 }}
],
"resolve": {"scale": {"x": "independent", "y": "independent"}}
},
{
"width": 403, "height": 302, "data": {"name": "MACSJ1206"},
"layer": [
{"mark": {"type": "line", "clip": true, "interpolate": "monotone"},
 "encoding": {
  "x": {"field": "r", "type": "quantitative", "scale": {"domain": [0, 5000], "nice": false, "zero": false}, "axis": {"orient": "bottom", "tickCount": 50, "labels": false, "tickSize": {"condition": {"test": "datum.value%1000==0", "value": -17}, "value": -8}, "title": null}},
  "y": {"field": "m", "type": "quantitative", "scale": {"type": "log", "domain": [0.0001, 3.2], "nice": false}, "axis": {"orient": "left", "tickCount": 10, "labels": false, "tickSize": {"condition": {"test": "datum.value==1||datum.value==0.1||datum.value==0.01||datum.value==0.001||datum.value==0.0001", "value": -17}, "value": -8}, "title": null}},
  "color": {"field": "s", "type": "nominal", "legend": null, "scale": {"domain": ["B+","B-","R-","R+","R","K-","K+","K","Gd","G"], "range": ["#0000ff","#0000ff","#ff0000","#ff0000","#ff0000","#000000","#000000","#000000","#00ff00","#00ff00"]}},
  "strokeDash": {"field": "s", "type": "nominal", "legend": null, "scale": {"domain": ["B+","B-","R-","R+","R","K-","K+","K","Gd","G"], "range": [[13,9],[13,9],[13,9],[13,9],[1,0],[16,12],[16,12],[1,0],[14,9],[1,0]]}},
  "strokeWidth": {"field": "s", "type": "ordinal", "legend": null, "scale": {"domain": ["B+","B-","R-","R+","R","K-","K+","K","Gd","G"], "range": [5.5,5.5,5.5,5.5,2,5,5,4,5,3.5]}}
 }},
{"data": {"values": [{}]},
 "mark": {"type": "text", "text": "MACSJ1206", "fontSize": 50, "font": "Liberation Sans", "align": "left", "baseline": "alphabetic", "color": "black"},
 "encoding": {
  "x": {"datum": 1017, "type": "quantitative", "scale": {"domain": [0, 5000], "nice": false, "zero": false}, "axis": {"orient": "top", "tickCount": 50, "labels": false, "tickSize": {"condition": {"test": "datum.value%1000==0", "value": -17}, "value": -8}, "title": null}},
  "y": {"datum": 0.000167, "type": "quantitative", "scale": {"type": "log", "domain": [0.0001, 3.2], "nice": false}, "axis": {"orient": "right", "tickCount": 10, "labels": false, "tickSize": {"condition": {"test": "datum.value==1||datum.value==0.1||datum.value==0.01||datum.value==0.001||datum.value==0.0001", "value": -17}, "value": -8}, "title": null}}
 }},
{"transform": [{"filter": "datum.r >= 2000 && datum.m <= 3.05"}],
 "mark": {"type": "line", "clip": true, "interpolate": "monotone"},
 "encoding": {
  "x": {"field": "r", "type": "quantitative", "scale": {"domain": [2000, 5000], "range": [113, 365], "nice": false, "zero": false}, "axis": {"orient": "bottom", "offset": -102, "tickCount": 30, "labelExpr": "datum.value%1000==0?''+datum.value:''", "labelPadding": 28, "tickSize": {"condition": {"test": "datum.value%1000==0", "value": -12}, "value": -6}, "title": null}},
  "y": {"field": "m", "type": "quantitative", "scale": {"domain": [0.1, 3], "range": [200, 102], "nice": false, "zero": false}, "axis": {"orient": "left", "offset": -113, "tickCount": 15, "labelExpr": "abs(datum.value-round(datum.value))<0.001?''+round(datum.value):''", "labelPadding": 21, "tickSize": {"condition": {"test": "abs(datum.value-round(datum.value))<0.001", "value": -12}, "value": -6}, "title": null}},
  "color": {"field": "s", "type": "nominal", "legend": null, "scale": {"domain": ["B+","B-","R-","R+","R","K-","K+","K","Gd","G"], "range": ["#0000ff","#0000ff","#ff0000","#ff0000","#ff0000","#000000","#000000","#000000","#00ff00","#00ff00"]}},
  "strokeDash": {"field": "s", "type": "nominal", "legend": null, "scale": {"domain": ["B+","B-","R-","R+","R","K-","K+","K","Gd","G"], "range": [[13,9],[13,9],[13,9],[13,9],[1,0],[16,12],[16,12],[1,0],[14,9],[1,0]]}},
  "strokeWidth": {"field": "s", "type": "ordinal", "legend": null, "scale": {"domain": ["B+","B-","R-","R+","R","K-","K+","K","Gd","G"], "range": [5.5,5.5,5.5,5.5,2,5,5,4,5,3.5]}}
 }},
{"data": {"values": [{}]},
 "mark": {"type": "point", "opacity": 0},
 "encoding": {
  "x": {"datum": 3000, "type": "quantitative", "scale": {"domain": [2000, 5000], "range": [113, 365], "nice": false, "zero": false}, "axis": {"orient": "top", "offset": -102, "tickCount": 30, "labels": false, "tickSize": {"condition": {"test": "datum.value%1000==0", "value": -12}, "value": -6}, "title": null}},
  "y": {"datum": 1, "type": "quantitative", "scale": {"domain": [0.1, 3], "range": [200, 102], "nice": false, "zero": false}, "axis": {"orient": "right", "offset": -38, "tickCount": 15, "labels": false, "tickSize": {"condition": {"test": "abs(datum.value-round(datum.value))<0.001", "value": -12}, "value": -6}, "title": null}}
 }}
],
"resolve": {"scale": {"x": "independent", "y": "independent"}}
},
{
"width": 403, "height": 302, "data": {"name": "A963"},
"layer": [
{"mark": {"type": "line", "clip": true, "interpolate": "monotone"},
 "encoding": {
  "x": {"field": "r", "type": "quantitative", "scale": {"domain": [0, 5000], "nice": false, "zero": false}, "axis": {"orient": "bottom", "tickCount": 50, "labels": true, "labelExpr": "datum.value%1000==0&&datum.value>0&&datum.value<5000?''+datum.value:''", "labelPadding": 33, "tickSize": {"condition": {"test": "datum.value%1000==0", "value": -17}, "value": -8}, "title": null}},
  "y": {"field": "m", "type": "quantitative", "scale": {"type": "log", "domain": [0.0001, 3.2], "nice": false}, "axis": {"orient": "left", "tickCount": 10, "labels": true, "labelExpr": "datum.value==1?'10⁰':datum.value==0.1?'10⁻¹':datum.value==0.01?'10⁻²':datum.value==0.001?'10⁻³':datum.value==0.0001?'10⁻⁴':''", "labelPadding": 34, "tickSize": {"condition": {"test": "datum.value==1||datum.value==0.1||datum.value==0.01||datum.value==0.001||datum.value==0.0001", "value": -17}, "value": -8}, "title": null}},
  "color": {"field": "s", "type": "nominal", "legend": null, "scale": {"domain": ["B+","B-","R-","R+","R","K-","K+","K","Gd","G"], "range": ["#0000ff","#0000ff","#ff0000","#ff0000","#ff0000","#000000","#000000","#000000","#00ff00","#00ff00"]}},
  "strokeDash": {"field": "s", "type": "nominal", "legend": null, "scale": {"domain": ["B+","B-","R-","R+","R","K-","K+","K","Gd","G"], "range": [[13,9],[13,9],[13,9],[13,9],[1,0],[16,12],[16,12],[1,0],[14,9],[1,0]]}},
  "strokeWidth": {"field": "s", "type": "ordinal", "legend": null, "scale": {"domain": ["B+","B-","R-","R+","R","K-","K+","K","Gd","G"], "range": [5.5,5.5,5.5,5.5,2,5,5,4,5,3.5]}}
 }},
{"data": {"values": [{}]},
 "mark": {"type": "text", "text": "A963", "fontSize": 50, "font": "Liberation Sans", "align": "left", "baseline": "alphabetic", "color": "black"},
 "encoding": {
  "x": {"datum": 2990, "type": "quantitative", "scale": {"domain": [0, 5000], "nice": false, "zero": false}, "axis": {"orient": "top", "tickCount": 50, "labels": false, "tickSize": {"condition": {"test": "datum.value%1000==0", "value": -17}, "value": -8}, "title": null}},
  "y": {"datum": 0.000156, "type": "quantitative", "scale": {"type": "log", "domain": [0.0001, 3.2], "nice": false}, "axis": {"orient": "right", "tickCount": 10, "labels": false, "tickSize": {"condition": {"test": "datum.value==1||datum.value==0.1||datum.value==0.01||datum.value==0.001||datum.value==0.0001", "value": -17}, "value": -8}, "title": null}}
 }},
{"transform": [{"filter": "datum.r >= 2000 && datum.m <= 3.05"}],
 "mark": {"type": "line", "clip": true, "interpolate": "monotone"},
 "encoding": {
  "x": {"field": "r", "type": "quantitative", "scale": {"domain": [2000, 5000], "range": [113, 365], "nice": false, "zero": false}, "axis": {"orient": "bottom", "offset": -102, "tickCount": 30, "labelExpr": "datum.value%1000==0?''+datum.value:''", "labelPadding": 28, "tickSize": {"condition": {"test": "datum.value%1000==0", "value": -12}, "value": -6}, "title": null}},
  "y": {"field": "m", "type": "quantitative", "scale": {"domain": [0.1, 3], "range": [200, 102], "nice": false, "zero": false}, "axis": {"orient": "left", "offset": -113, "tickCount": 15, "labelExpr": "abs(datum.value-round(datum.value))<0.001?''+round(datum.value):''", "labelPadding": 21, "tickSize": {"condition": {"test": "abs(datum.value-round(datum.value))<0.001", "value": -12}, "value": -6}, "title": null}},
  "color": {"field": "s", "type": "nominal", "legend": null, "scale": {"domain": ["B+","B-","R-","R+","R","K-","K+","K","Gd","G"], "range": ["#0000ff","#0000ff","#ff0000","#ff0000","#ff0000","#000000","#000000","#000000","#00ff00","#00ff00"]}},
  "strokeDash": {"field": "s", "type": "nominal", "legend": null, "scale": {"domain": ["B+","B-","R-","R+","R","K-","K+","K","Gd","G"], "range": [[13,9],[13,9],[13,9],[13,9],[1,0],[16,12],[16,12],[1,0],[14,9],[1,0]]}},
  "strokeWidth": {"field": "s", "type": "ordinal", "legend": null, "scale": {"domain": ["B+","B-","R-","R+","R","K-","K+","K","Gd","G"], "range": [5.5,5.5,5.5,5.5,2,5,5,4,5,3.5]}}
 }},
{"data": {"values": [{}]},
 "mark": {"type": "point", "opacity": 0},
 "encoding": {
  "x": {"datum": 3000, "type": "quantitative", "scale": {"domain": [2000, 5000], "range": [113, 365], "nice": false, "zero": false}, "axis": {"orient": "top", "offset": -102, "tickCount": 30, "labels": false, "tickSize": {"condition": {"test": "datum.value%1000==0", "value": -12}, "value": -6}, "title": null}},
  "y": {"datum": 1, "type": "quantitative", "scale": {"domain": [0.1, 3], "range": [200, 102], "nice": false, "zero": false}, "axis": {"orient": "right", "offset": -38, "tickCount": 15, "labels": false, "tickSize": {"condition": {"test": "abs(datum.value-round(datum.value))<0.001", "value": -12}, "value": -6}, "title": null}}
 }}
],
"resolve": {"scale": {"x": "independent", "y": "independent"}}
},
{
"width": 403, "height": 302, "data": {"name": "A2261"},
"layer": [
{"mark": {"type": "line", "clip": true, "interpolate": "monotone"},
 "encoding": {
  "x": {"field": "r", "type": "quantitative", "scale": {"domain": [0, 5000], "nice": false, "zero": false}, "axis": {"orient": "bottom", "tickCount": 50, "labels": true, "labelExpr": "datum.value%1000==0&&datum.value>0&&datum.value<5000?''+datum.value:''", "labelPadding": 33, "tickSize": {"condition": {"test": "datum.value%1000==0", "value": -17}, "value": -8}, "title": "Radius [h⁻¹₀.₇₃ kpc]", "titleFontSize": 48, "titlePadding": 15, "titleX": 186}},
  "y": {"field": "m", "type": "quantitative", "scale": {"type": "log", "domain": [0.0001, 3.2], "nice": false}, "axis": {"orient": "left", "tickCount": 10, "labels": false, "tickSize": {"condition": {"test": "datum.value==1||datum.value==0.1||datum.value==0.01||datum.value==0.001||datum.value==0.0001", "value": -17}, "value": -8}, "title": null}},
  "color": {"field": "s", "type": "nominal", "legend": null, "scale": {"domain": ["B+","B-","R-","R+","R","K-","K+","K","Gd","G"], "range": ["#0000ff","#0000ff","#ff0000","#ff0000","#ff0000","#000000","#000000","#000000","#00ff00","#00ff00"]}},
  "strokeDash": {"field": "s", "type": "nominal", "legend": null, "scale": {"domain": ["B+","B-","R-","R+","R","K-","K+","K","Gd","G"], "range": [[13,9],[13,9],[13,9],[13,9],[1,0],[16,12],[16,12],[1,0],[14,9],[1,0]]}},
  "strokeWidth": {"field": "s", "type": "ordinal", "legend": null, "scale": {"domain": ["B+","B-","R-","R+","R","K-","K+","K","Gd","G"], "range": [5.5,5.5,5.5,5.5,2,5,5,4,5,3.5]}}
 }},
{"data": {"values": [{}]},
 "mark": {"type": "text", "text": "A2261", "fontSize": 50, "font": "Liberation Sans", "align": "left", "baseline": "alphabetic", "color": "black"},
 "encoding": {
  "x": {"datum": 3015, "type": "quantitative", "scale": {"domain": [0, 5000], "nice": false, "zero": false}, "axis": {"orient": "top", "tickCount": 50, "labels": false, "tickSize": {"condition": {"test": "datum.value%1000==0", "value": -17}, "value": -8}, "title": null}},
  "y": {"datum": 0.000156, "type": "quantitative", "scale": {"type": "log", "domain": [0.0001, 3.2], "nice": false}, "axis": {"orient": "right", "tickCount": 10, "labels": false, "tickSize": {"condition": {"test": "datum.value==1||datum.value==0.1||datum.value==0.01||datum.value==0.001||datum.value==0.0001", "value": -17}, "value": -8}, "title": null}}
 }},
{"transform": [{"filter": "datum.r >= 2000 && datum.m <= 3.05"}],
 "mark": {"type": "line", "clip": true, "interpolate": "monotone"},
 "encoding": {
  "x": {"field": "r", "type": "quantitative", "scale": {"domain": [2000, 5000], "range": [113, 365], "nice": false, "zero": false}, "axis": {"orient": "bottom", "offset": -102, "tickCount": 30, "labelExpr": "datum.value%1000==0?''+datum.value:''", "labelPadding": 28, "tickSize": {"condition": {"test": "datum.value%1000==0", "value": -12}, "value": -6}, "title": null}},
  "y": {"field": "m", "type": "quantitative", "scale": {"domain": [0.1, 3], "range": [200, 102], "nice": false, "zero": false}, "axis": {"orient": "left", "offset": -113, "tickCount": 15, "labelExpr": "abs(datum.value-round(datum.value))<0.001?''+round(datum.value):''", "labelPadding": 21, "tickSize": {"condition": {"test": "abs(datum.value-round(datum.value))<0.001", "value": -12}, "value": -6}, "title": null}},
  "color": {"field": "s", "type": "nominal", "legend": null, "scale": {"domain": ["B+","B-","R-","R+","R","K-","K+","K","Gd","G"], "range": ["#0000ff","#0000ff","#ff0000","#ff0000","#ff0000","#000000","#000000","#000000","#00ff00","#00ff00"]}},
  "strokeDash": {"field": "s", "type": "nominal", "legend": null, "scale": {"domain": ["B+","B-","R-","R+","R","K-","K+","K","Gd","G"], "range": [[13,9],[13,9],[13,9],[13,9],[1,0],[16,12],[16,12],[1,0],[14,9],[1,0]]}},
  "strokeWidth": {"field": "s", "type": "ordinal", "legend": null, "scale": {"domain": ["B+","B-","R-","R+","R","K-","K+","K","Gd","G"], "range": [5.5,5.5,5.5,5.5,2,5,5,4,5,3.5]}}
 }},
{"data": {"values": [{}]},
 "mark": {"type": "point", "opacity": 0},
 "encoding": {
  "x": {"datum": 3000, "type": "quantitative", "scale": {"domain": [2000, 5000], "range": [113, 365], "nice": false, "zero": false}, "axis": {"orient": "top", "offset": -102, "tickCount": 30, "labels": false, "tickSize": {"condition": {"test": "datum.value%1000==0", "value": -12}, "value": -6}, "title": null}},
  "y": {"datum": 1, "type": "quantitative", "scale": {"domain": [0.1, 3], "range": [200, 102], "nice": false, "zero": false}, "axis": {"orient": "right", "offset": -38, "tickCount": 15, "labels": false, "tickSize": {"condition": {"test": "abs(datum.value-round(datum.value))<0.001", "value": -12}, "value": -6}, "title": null}}
 }}
],
"resolve": {"scale": {"x": "independent", "y": "independent"}}
},
{
"width": 403, "height": 302, "data": {"name": "A1423"},
"layer": [
{"mark": {"type": "line", "clip": true, "interpolate": "monotone"},
 "encoding": {
  "x": {"field": "r", "type": "quantitative", "scale": {"domain": [0, 5000], "nice": false, "zero": false}, "axis": {"orient": "bottom", "tickCount": 50, "labels": true, "labelExpr": "datum.value%1000==0&&datum.value>0&&datum.value<5000?''+datum.value:''", "labelPadding": 33, "tickSize": {"condition": {"test": "datum.value%1000==0", "value": -17}, "value": -8}, "title": null}},
  "y": {"field": "m", "type": "quantitative", "scale": {"type": "log", "domain": [0.0001, 3.2], "nice": false}, "axis": {"orient": "left", "tickCount": 10, "labels": false, "tickSize": {"condition": {"test": "datum.value==1||datum.value==0.1||datum.value==0.01||datum.value==0.001||datum.value==0.0001", "value": -17}, "value": -8}, "title": null}},
  "color": {"field": "s", "type": "nominal", "legend": null, "scale": {"domain": ["B+","B-","R-","R+","R","K-","K+","K","Gd","G"], "range": ["#0000ff","#0000ff","#ff0000","#ff0000","#ff0000","#000000","#000000","#000000","#00ff00","#00ff00"]}},
  "strokeDash": {"field": "s", "type": "nominal", "legend": null, "scale": {"domain": ["B+","B-","R-","R+","R","K-","K+","K","Gd","G"], "range": [[13,9],[13,9],[13,9],[13,9],[1,0],[16,12],[16,12],[1,0],[14,9],[1,0]]}},
  "strokeWidth": {"field": "s", "type": "ordinal", "legend": null, "scale": {"domain": ["B+","B-","R-","R+","R","K-","K+","K","Gd","G"], "range": [5.5,5.5,5.5,5.5,2,5,5,4,5,3.5]}}
 }},
{"data": {"values": [{}]},
 "mark": {"type": "text", "text": "A1423", "fontSize": 50, "font": "Liberation Sans", "align": "left", "baseline": "alphabetic", "color": "black"},
 "encoding": {
  "x": {"datum": 3003, "type": "quantitative", "scale": {"domain": [0, 5000], "nice": false, "zero": false}, "axis": {"orient": "top", "tickCount": 50, "labels": false, "tickSize": {"condition": {"test": "datum.value%1000==0", "value": -17}, "value": -8}, "title": null}},
  "y": {"datum": 0.000167, "type": "quantitative", "scale": {"type": "log", "domain": [0.0001, 3.2], "nice": false}, "axis": {"orient": "right", "tickCount": 10, "labels": false, "tickSize": {"condition": {"test": "datum.value==1||datum.value==0.1||datum.value==0.01||datum.value==0.001||datum.value==0.0001", "value": -17}, "value": -8}, "title": null}}
 }},
{"transform": [{"filter": "datum.r >= 2000 && datum.m <= 3.05"}],
 "mark": {"type": "line", "clip": true, "interpolate": "monotone"},
 "encoding": {
  "x": {"field": "r", "type": "quantitative", "scale": {"domain": [2000, 5000], "range": [113, 365], "nice": false, "zero": false}, "axis": {"orient": "bottom", "offset": -102, "tickCount": 30, "labelExpr": "datum.value%1000==0?''+datum.value:''", "labelPadding": 28, "tickSize": {"condition": {"test": "datum.value%1000==0", "value": -12}, "value": -6}, "title": null}},
  "y": {"field": "m", "type": "quantitative", "scale": {"domain": [0.1, 3], "range": [200, 102], "nice": false, "zero": false}, "axis": {"orient": "left", "offset": -113, "tickCount": 15, "labelExpr": "abs(datum.value-round(datum.value))<0.001?''+round(datum.value):''", "labelPadding": 21, "tickSize": {"condition": {"test": "abs(datum.value-round(datum.value))<0.001", "value": -12}, "value": -6}, "title": null}},
  "color": {"field": "s", "type": "nominal", "legend": null, "scale": {"domain": ["B+","B-","R-","R+","R","K-","K+","K","Gd","G"], "range": ["#0000ff","#0000ff","#ff0000","#ff0000","#ff0000","#000000","#000000","#000000","#00ff00","#00ff00"]}},
  "strokeDash": {"field": "s", "type": "nominal", "legend": null, "scale": {"domain": ["B+","B-","R-","R+","R","K-","K+","K","Gd","G"], "range": [[13,9],[13,9],[13,9],[13,9],[1,0],[16,12],[16,12],[1,0],[14,9],[1,0]]}},
  "strokeWidth": {"field": "s", "type": "ordinal", "legend": null, "scale": {"domain": ["B+","B-","R-","R+","R","K-","K+","K","Gd","G"], "range": [5.5,5.5,5.5,5.5,2,5,5,4,5,3.5]}}
 }},
{"data": {"values": [{}]},
 "mark": {"type": "point", "opacity": 0},
 "encoding": {
  "x": {"datum": 3000, "type": "quantitative", "scale": {"domain": [2000, 5000], "range": [113, 365], "nice": false, "zero": false}, "axis": {"orient": "top", "offset": -102, "tickCount": 30, "labels": false, "tickSize": {"condition": {"test": "datum.value%1000==0", "value": -12}, "value": -6}, "title": null}},
  "y": {"datum": 1, "type": "quantitative", "scale": {"domain": [0.1, 3], "range": [200, 102], "nice": false, "zero": false}, "axis": {"orient": "right", "offset": -38, "tickCount": 15, "labels": false, "tickSize": {"condition": {"test": "abs(datum.value-round(datum.value))<0.001", "value": -12}, "value": -6}, "title": null}}
 }}
],
"resolve": {"scale": {"x": "independent", "y": "independent"}}
}
],
"config": {
 "view": {"stroke": null},
 "axis": {"domainColor": "black", "domainWidth": 2.5, "tickColor": "black", "tickWidth": 2, "labelColor": "black", "labelFont": "Liberation Sans", "labelFontSize": 33, "titleFont": "Liberation Sans", "titleFontWeight": "normal", "titleColor": "black", "grid": false, "labelOverlap": false, "labelFlush": false, "labelBound": false}
}
}
